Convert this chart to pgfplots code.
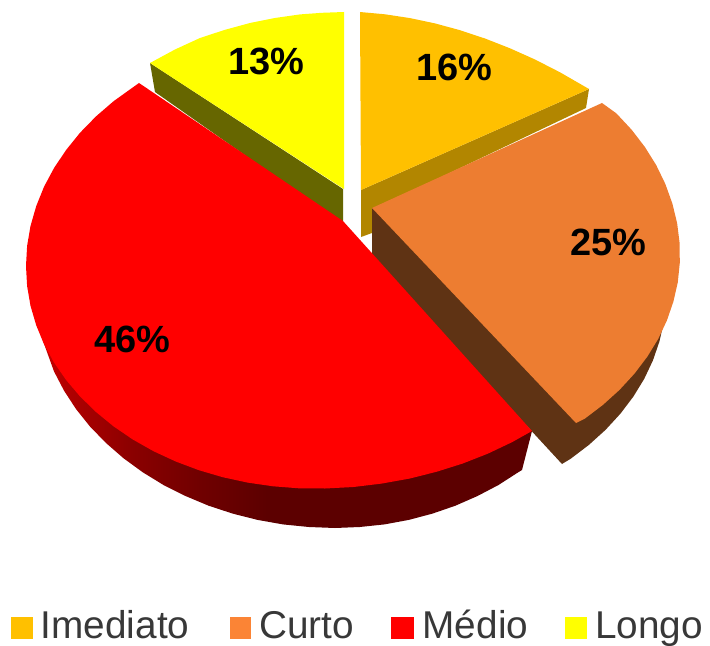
\documentclass[border=0pt]{standalone}
\usepackage{pgfplots}
\pgfplotsset{compat=1.18}
\usepackage{fontspec}
\setmainfont{Liberation Sans}
\definecolor{cGold}{HTML}{FFC000}
\definecolor{cGoldS}{HTML}{B28600}
\definecolor{cOr}{HTML}{ED7D31}
\definecolor{cOrL}{HTML}{FB8435}
\definecolor{cOrS}{HTML}{5F3314}
\definecolor{cRed}{HTML}{FF0000}
\definecolor{cYel}{HTML}{FFFF00}
\definecolor{cYelS}{HTML}{666600}
\definecolor{rA}{HTML}{C80000}
\definecolor{rB}{HTML}{B00000}
\definecolor{rC}{HTML}{8A0000}
\definecolor{rD}{HTML}{700000}
\definecolor{rE}{HTML}{5C0000}
\pgfdeclarehorizontalshading{redside}{100bp}{color(0bp)=(rA); color(25bp)=(rA); color(27.55bp)=(rB); color(34.3bp)=(rC); color(41.1bp)=(rD); color(47.96bp)=(rE); color(100bp)=(rE)}
\newcommand\poly[2]{\addplot[fill=#1,draw=none,forget plot] coordinates {#2} -- cycle;}
\newcommand\lab[2]{\node[font=\fontsize{38.1}{40}\bfseries\selectfont,text=black,inner sep=0pt,anchor=base] at (axis cs:#1) {#2};}
\newcommand\leg[2]{\node[font=\fontsize{38.9}{40}\selectfont,text=black!78,inner sep=0pt,anchor=base west] at (axis cs:#1) {#2};}
\begin{document}
\begin{tikzpicture}
\useasboundingbox (0,0) rectangle (710bp,646bp);
\begin{axis}[scale only axis,width=710bp,height=646bp,xmin=0,xmax=710,ymin=0,ymax=646,y dir=reverse,hide axis,clip=false]
% Longo
\poly{cYelS}{(150,63)(343,189)(343,224)(155,92)}
\poly{cYel}{(150,63)(175,49.5)(200,38)(225,29.8)(250,23)(275,18)(300,14.4)(322,12.8)(344,12)(344,189)}
% Imediato
\poly{cGoldS}{(361,190)(589,89)(586,108)(372,210)(372,233)(361,237)}
\poly{cGold}{(360,12)(385,14.3)(410,18.1)(435,23.4)(460,30.2)(485,38.5)(510,48.3)(535,59.5)(560,72.3)(589,89)(361,190)}
% Curto
\poly{cOrS}{(372,208)(372,258)(562,464)(570.6,458.8)(588.9,444.9)(605.6,429.8)(620.4,413.7)(633.3,396.7)(644.2,378.9)(652.9,360.5)(659.4,341.6)(663.8,322.3)(670,300)}
\poly{cOr}{(372,208)(602,103)(616.4,113.4)(631.6,129.7)(644.9,147)(656.2,165.1)(665.3,183.9)(672.3,203.3)(677.1,223)(679.6,243)(679.8,262.8)(677.8,282.3)(673.4,301.6)(666.9,320.5)(658.2,338.9)(647.3,356.7)(634.4,373.7)(619.6,389.8)(602.9,404.9)(584.6,418.8)(576,423)}
% Medio side
\addplot[shade,shading=redside,draw=none,forget plot] coordinates {(42.5,339.5)(54,371.4)(64,390.6)(76,409)(90,426.5)(106,443)(123.6,458.3)(142.8,472.3)(163.5,485)(185.5,496)(208.6,505.7)(232.7,513.6)(257.6,519.9)(283,524.4)(309,527)(335,528)(359.8,527)(384.5,524.4)(408.8,519.9)(432.5,513.6)(455.4,505.7)(477.5,496)(498.5,485)(518.2,472.3)(522,470)(532,431)(340,420)} -- cycle;
% Medio top
\poly{cRed}{(139,83)(113.6,101.2)(96,116.4)(80.1,132.7)(66.1,150)(54,168.1)(44,186.8)(36.2,206.2)(30.5,226)(27.1,246)(26,266)(27.1,286)(30.5,305.8)(36.2,325.2)(44,344.2)(54,362.5)(66.1,380)(80.1,396.5)(96,412)(113.6,426.4)(132.8,439.5)(153.5,451.2)(175.5,461.4)(198.6,470.1)(222.7,477.2)(247.6,482.6)(273.1,486.3)(298.9,488.3)(325,488.5)(353.4,487)(381.6,483.6)(409.4,478.6)(436.5,471.8)(462.8,463.5)(488,453.6)(512,442.2)(532,431)(343,221)}
% labels
\lab{266,75}{13\%}
\lab{454,81}{16\%}
\lab{608,255}{25\%}
\lab{132,352}{46\%}
% legend
\poly{cGold}{(11,617)(33,617)(33,639)(11,639)}
\leg{40.5,638}{Imediato}
\poly{cOrL}{(230,617)(251,617)(251,639)(230,639)}
\leg{259,638}{Curto}
\poly{cRed}{(391,617)(414,617)(414,639)(391,639)}
\leg{422.5,638}{Médio}
\poly{cYel}{(565,617)(587,617)(587,639)(565,639)}
\leg{595,638}{Longo}
\end{axis}
\end{tikzpicture}
\end{document}
